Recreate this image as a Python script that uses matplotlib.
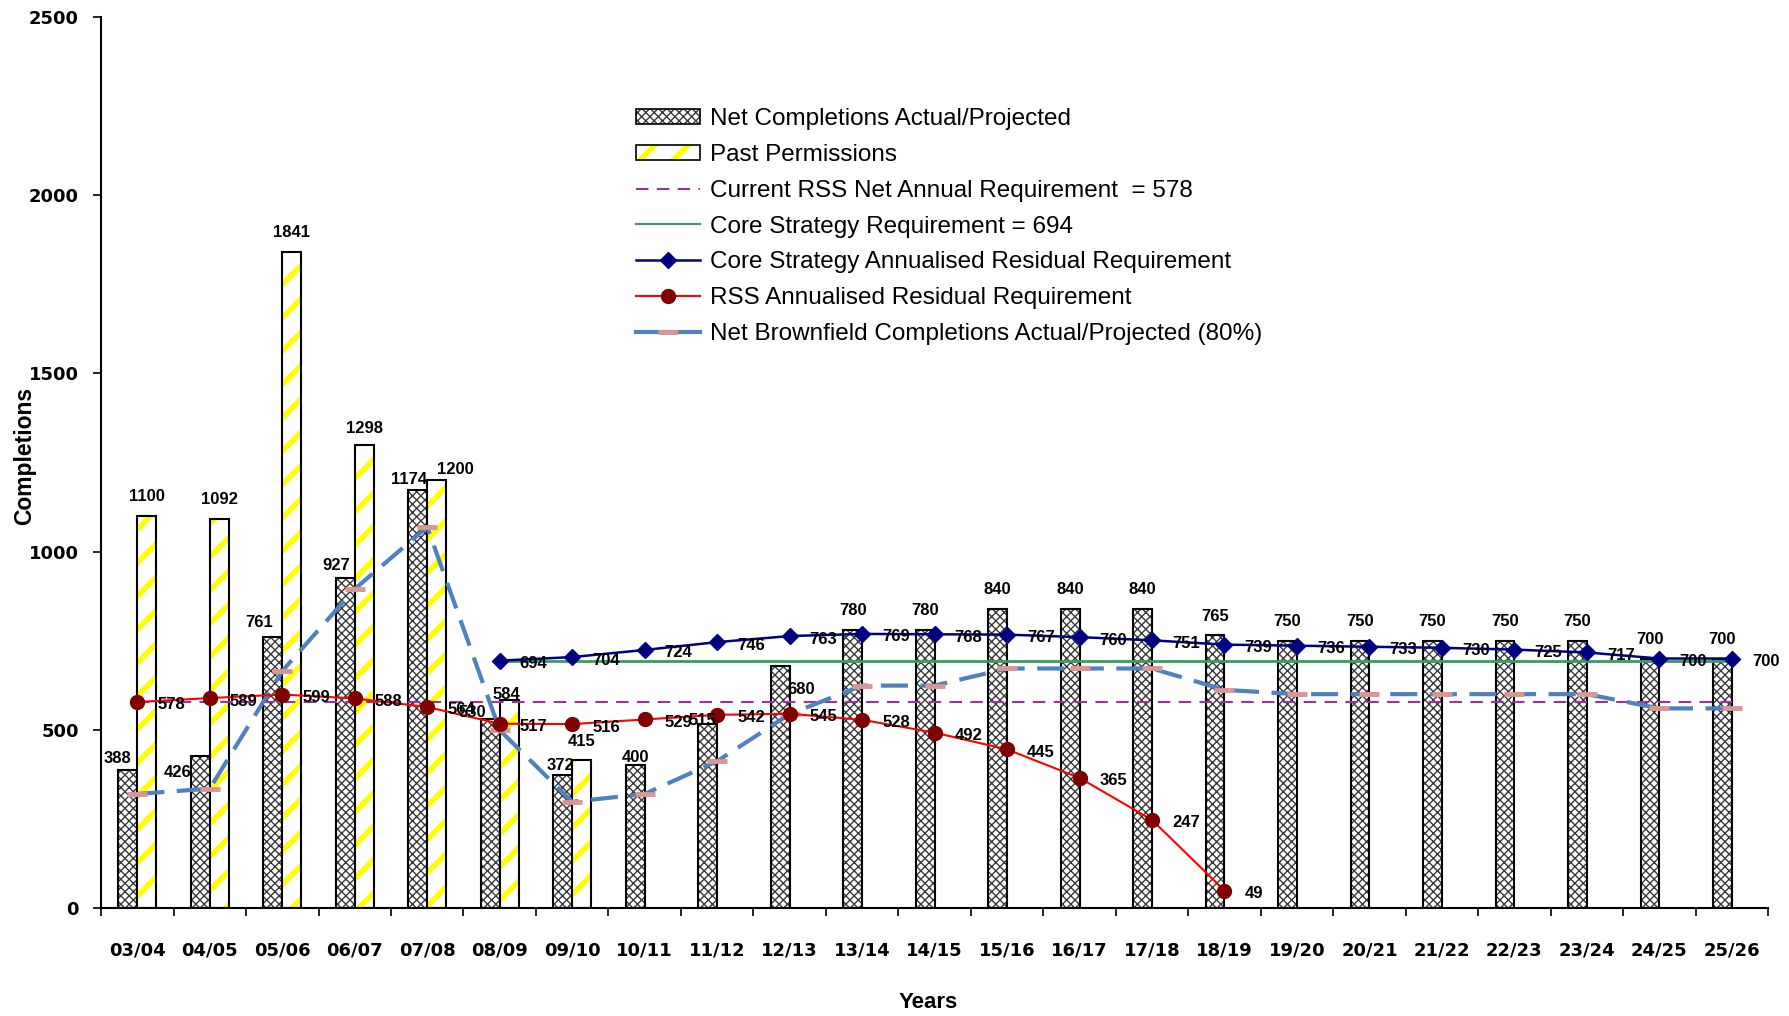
import matplotlib.pyplot as plt
from matplotlib.lines import Line2D
from matplotlib.patches import Patch, Rectangle

years = ["03/04", "04/05", "05/06", "06/07", "07/08", "08/09", "09/10", "10/11",
         "11/12", "12/13", "13/14", "14/15", "15/16", "16/17", "17/18", "18/19",
         "19/20", "20/21", "21/22", "22/23", "23/24", "24/25", "25/26"]
net_completions = [388, 426, 761, 927, 1174, 530, 372, 400, 515, 680, 780, 780,
                   840, 840, 840, 765, 750, 750, 750, 750, 750, 700, 700]
past_permissions = [1100, 1092, 1841, 1298, 1200, 584, 415]
core_residual = [694, 704, 724, 746, 763, 769, 768, 767, 760, 751, 739, 736,
                 733, 730, 725, 717, 700, 700]
rss_residual = [578, 589, 599, 588, 564, 517, 516, 529, 542, 545, 528, 492,
                445, 365, 247, 49]
brownfield = [320, 335, 665, 895, 1069, 499, 298, 320, 412, 544, 624, 624,
              672, 672, 672, 612, 600, 600, 600, 600, 600, 560, 560]
rss_requirement = 578
core_requirement = 694

BLUE = "#4f81bd"
PINK = "#d99694"
PURPLE = "#993399"
GREEN = "#3a9a60"
NAVY = "#000080"
YELLOW = "#ffff00"
HATCH_GREY = "#3a3a3a"
LABEL_FONT = dict(family="Liberation Sans", weight="bold", size=12)

plt.rcParams["hatch.linewidth"] = 4.0


def set_hatch_width(artist, lw):
    # per-artist hatch width where the installed matplotlib supports it
    if hasattr(artist, "set_hatch_linewidth"):
        artist.set_hatch_linewidth(lw)
    elif hasattr(artist, "_hatch_linewidth"):
        artist._hatch_linewidth = lw
    draw = artist.draw

    def wrapped(renderer):
        with plt.rc_context({"hatch.linewidth": lw}):
            draw(renderer)
    artist.draw = wrapped


fig = plt.figure(figsize=(17.89, 10.16), dpi=100)
ax = fig.add_axes([0.0565, 0.1063, 0.9318, 0.877])

xs = list(range(len(years)))
w = 0.26
net_x = [i - w / 2 for i in xs]
perm_x = [i + w / 2 for i in range(len(past_permissions))]

# bars: hatch layer first, then a plain black outline on top
net_bars = ax.bar(net_x, net_completions, w, facecolor="white", edgecolor=HATCH_GREY,
                  hatch="xxxx", lw=0, zorder=2)
for p in net_bars:
    set_hatch_width(p, 1.0)
ax.bar(net_x, net_completions, w, fill=False, edgecolor="black", lw=1.5, zorder=2)
perm_bars = ax.bar(perm_x, past_permissions, w, facecolor="white", edgecolor=YELLOW,
                   hatch="/", lw=0, zorder=2)
for p in perm_bars:
    set_hatch_width(p, 4.0)
ax.bar(perm_x, past_permissions, w, fill=False, edgecolor="black", lw=1.5, zorder=2)

# requirement lines
ax.hlines(rss_requirement, 0, len(years) - 1, colors=PURPLE, lw=1.5,
          linestyles=(0, (6, 4)), zorder=3)
core_start = len(years) - len(core_residual)
ax.hlines(core_requirement, core_start, len(years) - 1, colors=GREEN, lw=2, zorder=3)

# brownfield completions
ax.plot(xs, brownfield, color=BLUE, lw=3, dashes=(6.5, 3), marker="_", ms=14,
        mew=3.5, mec=PINK, zorder=4)

core_x = list(range(core_start, len(years)))
ax.plot(core_x, core_residual, color=NAVY, lw=1.8, marker="D", ms=8, zorder=5)
rss_x = list(range(len(rss_residual)))
ax.plot(rss_x, rss_residual, color="red", lw=1.5, marker="o", ms=10,
        mfc="#800000", mec="#800000", zorder=5)

# value labels
net_nudge = {0: (-10, 11), 1: (-23, -16), 2: (-14, 14), 3: (-9, 12), 4: (-9, 10),
             5: (-18, 7), 6: (-2, 10), 7: (0, 8), 8: (-5, 4), 9: (21, -24)}
for i, v in enumerate(net_completions):
    dx, dy = net_nudge.get(i, (0, 19))
    ax.annotate(str(v), (net_x[i], v), xytext=(dx, dy), textcoords="offset pixels",
                ha="center", va="center", zorder=6, **LABEL_FONT)
perm_nudge = {3: (0, 17), 4: (19, 11), 5: (-3, 5)}
for i, v in enumerate(past_permissions):
    dx, dy = perm_nudge.get(i, (0, 19))
    ax.annotate(str(v), (perm_x[i], v), xytext=(dx, dy), textcoords="offset pixels",
                ha="center", va="center", zorder=6, **LABEL_FONT)
for x, v in zip(rss_x, rss_residual):
    ax.annotate(str(v), (x, v), xytext=(20, -3), textcoords="offset pixels",
                ha="left", va="center", zorder=6, **LABEL_FONT)
for x, v in zip(core_x, core_residual):
    ax.annotate(str(v), (x, v), xytext=(20, -3), textcoords="offset pixels",
                ha="left", va="center", zorder=6, **LABEL_FONT)

# axes
ax.set_xlim(-0.5, len(years) - 0.5)
ax.set_ylim(0, 2500)
ax.set_yticks(range(0, 2501, 500))
ax.set_xticks(xs)
ax.set_xticklabels(years)
ax.set_xticks([i - 0.5 for i in range(len(years) + 1)], minor=True)
ax.tick_params(axis="x", which="major", length=0, pad=24)
ax.tick_params(axis="x", which="minor", length=6, width=1.2, direction="out")
ax.tick_params(axis="y", length=6, width=1.2, direction="out", pad=10)
for lab in ax.get_xticklabels() + ax.get_yticklabels():
    lab.set_fontfamily("DejaVu Sans")
    lab.set_fontweight("bold")
    lab.set_fontsize(13)
for s in ["top", "right"]:
    ax.spines[s].set_visible(False)
for s in ["left", "bottom"]:
    ax.spines[s].set_linewidth(1.5)

fig.text(25 / 1789, 1 - 456 / 1016, "Completions", rotation=90, ha="center",
         va="center", family="Liberation Sans", weight="bold", size=16.5)
fig.text(928 / 1789, 1 - 1003 / 1016, "Years", ha="center", va="center",
         family="Liberation Sans", weight="bold", size=16)

# legend
outline = dict(fill=False, edgecolor="black", lw=1.2)
handles = [
    (Patch(facecolor="white", edgecolor=HATCH_GREY, hatch="xxxx", lw=0), Patch(**outline)),
    (Patch(facecolor="white", edgecolor=YELLOW, hatch="/", lw=0), Patch(**outline)),
    Line2D([], [], color=PURPLE, lw=1.5, ls=(0, (6, 4))),
    Line2D([], [], color=GREEN, lw=1.5),
    Line2D([], [], color=NAVY, lw=1.8, marker="D", ms=8),
    Line2D([], [], color="red", lw=1.5, marker="o", ms=10, mfc="#800000", mec="#800000"),
    Line2D([], [], color=BLUE, lw=3, marker="_", ms=14, mew=3.5, mec=PINK),
]
labels = [
    "Net Completions Actual/Projected",
    "Past Permissions",
    "Current RSS Net Annual Requirement  = 578",
    "Core Strategy Requirement = 694",
    "Core Strategy Annualised Residual Requirement",
    "RSS Annualised Residual Requirement",
    "Net Brownfield Completions Actual/Projected (80%)",
]
leg = fig.legend(handles, labels, loc="upper left",
                 bbox_to_anchor=(636 / 1789, 1 - 108 / 1016),
                 frameon=False, borderpad=0, borderaxespad=0, handlelength=2.65,
                 handleheight=0.6, handletextpad=0.4, labelspacing=0.57, numpoints=1,
                 prop=dict(family="Liberation Sans", size=17.5))
for r in leg.findobj(Rectangle):
    if r.get_hatch() == "/":
        set_hatch_width(r, 4.0)
    elif r.get_hatch() == "xxxx":
        set_hatch_width(r, 1.0)

fig.savefig("out.png", dpi=100)
